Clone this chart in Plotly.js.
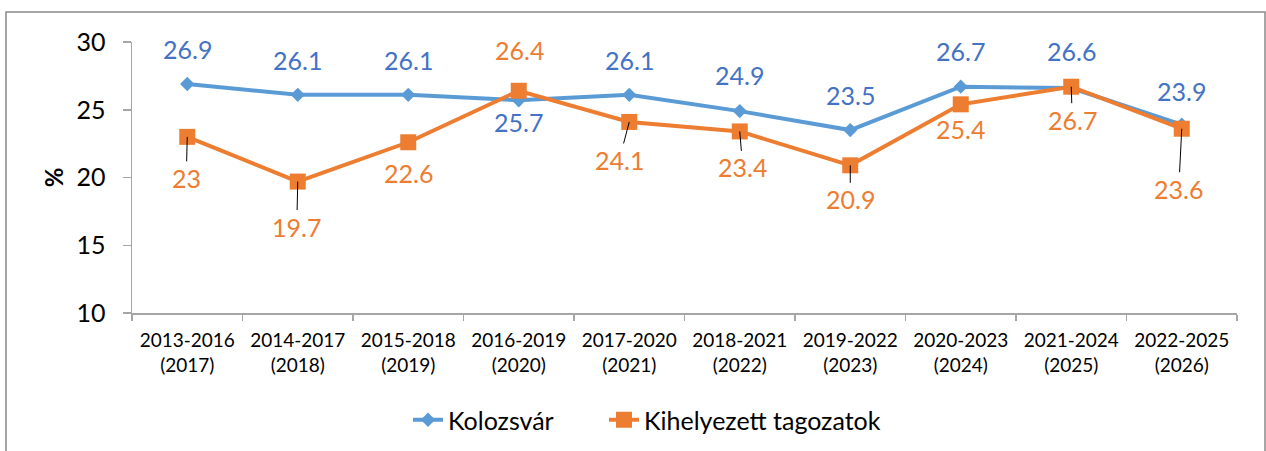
<!DOCTYPE html>
<html>
<head>
<meta charset="utf-8">
<script src="https://cdn.plot.ly/plotly-3.0.1.min.js"></script>
<style>
  html, body { margin: 0; padding: 0; background: #ffffff; }
  #chart { width: 1266px; height: 451px; }
</style>
</head>
<body>
<div id="chart"></div>
<script>
// ---- data ----
const categories = [
  "2013-2016<br>(2017)", "2014-2017<br>(2018)", "2015-2018<br>(2019)", "2016-2019<br>(2020)",
  "2017-2020<br>(2021)", "2018-2021<br>(2022)", "2019-2022<br>(2023)", "2020-2023<br>(2024)",
  "2021-2024<br>(2025)", "2022-2025<br>(2026)"
];
const kolozsvar = [26.9, 26.1, 26.1, 25.7, 26.1, 24.9, 23.5, 26.7, 26.6, 23.9];
const kihelyezett = [23.0, 19.7, 22.6, 26.4, 24.1, 23.4, 20.9, 25.4, 26.7, 23.6];
const seriesNames = ["Kolozsvár", "Kihelyezett tagozatok"];
const yTicks = [10, 15, 20, 25, 30];

// ---- label placement (pixels, text centre relative to point; +y is downward) ----
const blueLabelDX = [0, 0, 0, 0, 0, 0, 0, 0, 0, 0];
const blueLabelDY = [-35, -35, -35, 22, -35, -36, -35, -36, -37, -34];
const orangeLabelDX = [-1, -1, 0, 1, -10, 3, 0, 0, 1, -3];
const orangeLabelDY = [41, 45, 31, -41, 38, 36, 34, 25, 33, 60];
const orangeLeader = [true, true, false, false, true, true, true, false, true, true];

const FONT = "Lato, 'Open Sans', sans-serif";
const BLUE = "#5B9BD5", BLUE_TXT = "#4472C4", ORANGE = "#ED7D31";

const traces = [
  {
    x: categories, y: kolozsvar, name: seriesNames[0], type: "scatter", mode: "lines+markers",
    line: { color: BLUE, width: 4 },
    marker: { symbol: "diamond", size: 11, color: BLUE },
    legend: "legend",
    hoverinfo: "skip"
  },
  {
    x: categories, y: kihelyezett, name: seriesNames[1], type: "scatter", mode: "lines+markers",
    line: { color: ORANGE, width: 4 },
    marker: { symbol: "square", size: 16, color: ORANGE },
    legend: "legend2",
    hoverinfo: "skip"
  }
];

const annotations = [];
categories.forEach((c, i) => {
  annotations.push({
    x: c, y: kolozsvar[i], xref: "x", yref: "y",
    text: String(kolozsvar[i]), showarrow: false,
    xshift: blueLabelDX[i], yshift: -blueLabelDY[i],
    font: { family: FONT, size: 25, color: BLUE_TXT }
  });
  if (orangeLeader[i]) {
    annotations.push({
      x: c, y: kihelyezett[i], xref: "x", yref: "y",
      text: String(kihelyezett[i]), showarrow: true,
      ax: orangeLabelDX[i], ay: orangeLabelDY[i],
      arrowhead: 0, arrowwidth: 1, arrowcolor: "#000000", standoff: 0, startstandoff: 0,
      font: { family: FONT, size: 25, color: ORANGE }
    });
  } else {
    annotations.push({
      x: c, y: kihelyezett[i], xref: "x", yref: "y",
      text: String(kihelyezett[i]), showarrow: false,
      xshift: orangeLabelDX[i], yshift: -orangeLabelDY[i],
      font: { family: FONT, size: 25, color: ORANGE }
    });
  }
});

const legendStyle = {
  orientation: "h", xref: "container", yref: "container",
  xanchor: "left", y: 1 - 420 / 451, yanchor: "middle",
  font: { family: FONT, size: 25, color: "#000000" },
  bgcolor: "rgba(0,0,0,0)"
};

const layout = {
  width: 1266, height: 451,
  margin: { l: 132, r: 29, t: 42, b: 138 },
  paper_bgcolor: "#ffffff", plot_bgcolor: "#ffffff",
  font: { family: FONT, color: "#000000" },
  showlegend: true,
  legend: Object.assign({}, legendStyle, { x: 408 / 1266 }),
  legend2: Object.assign({}, legendStyle, { x: 604 / 1266 }),
  xaxis: {
    type: "category", range: [-0.5, 9.5], tickson: "boundaries",
    showline: true, linecolor: "#A6A6A6", linewidth: 1.5,
    ticks: "outside", ticklen: 6, tickcolor: "#A6A6A6", tickwidth: 1.5,
    showgrid: false, zeroline: false, ticklabelstandoff: 10,
    tickfont: { family: FONT, size: 19, color: "#000000" },
    fixedrange: true
  },
  yaxis: {
    range: [10, 30], tickvals: yTicks, ticktext: yTicks.map(String),
    showline: true, linecolor: "#A6A6A6", linewidth: 1.5,
    ticks: "outside", ticklen: 8, tickcolor: "#A6A6A6", tickwidth: 1.5,
    showgrid: false, zeroline: false, ticklabelstandoff: 12,
    tickfont: { family: FONT, size: 25, color: "#000000" },
    title: { text: "<b>%</b>", font: { family: FONT, size: 24, color: "#000000" }, standoff: 6 },
    fixedrange: true
  },
  shapes: [{
    type: "rect", xref: "paper", yref: "paper",
    x0: (6 - 132) / 1105, x1: (1265 - 132) / 1105,
    y0: (313 - 470) / 271, y1: (313 - 12) / 271,
    line: { color: "#898989", width: 1.5 }, fillcolor: "rgba(0,0,0,0)", layer: "below"
  }],
  annotations: annotations
};

Plotly.newPlot("chart", traces, layout, { staticPlot: true, displayModeBar: false });
</script>
</body>
</html>
